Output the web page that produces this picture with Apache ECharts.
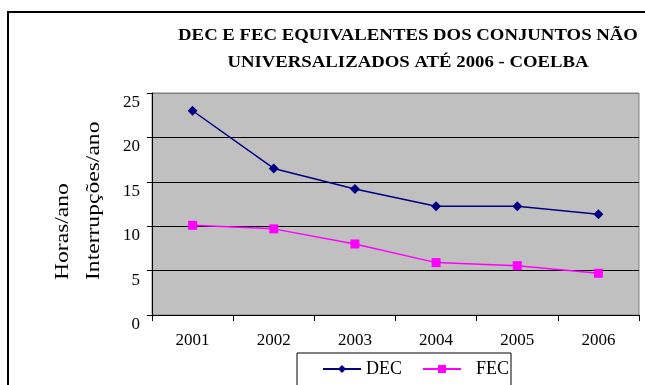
<!DOCTYPE html>
<html>
<head>
<meta charset="utf-8">
<script src="https://cdn.jsdelivr.net/npm/echarts@6/dist/echarts.min.js"></script>
<style>
  html, body { margin: 0; padding: 0; background: #fff; }
  #chart { width: 645px; height: 385px; }
</style>
</head>
<body>
<div id="chart"></div>
<script>
// Annual continuity indicators (DEC in hours/year, FEC in interruptions/year)
const years = ['2001', '2002', '2003', '2004', '2005', '2006'];
const decValues = [23.0, 16.5, 14.2, 12.25, 12.25, 11.35];
const fecValues = [10.1, 9.7, 8.0, 5.9, 5.55, 4.7];
const yTicks = { min: 0, max: 25, interval: 5 };
const titleLines = ['DEC E FEC EQUIVALENTES DOS CONJUNTOS NÃO', 'UNIVERSALIZADOS ATÉ 2006 - COELBA'];
const axisNames = ['Horas/ano', 'Interrupções/ano'];

const serif = '"Liberation Serif", "Times New Roman", serif';

const chart = echarts.init(document.getElementById('chart'));
chart.setOption({
  animation: false,
  backgroundColor: '#ffffff',
  graphic: [
    {
      type: 'rect',
      shape: { x: 8, y: 12, width: 700, height: 420 },
      style: { fill: 'none', stroke: '#000', lineWidth: 2 },
      z: -1
    },
    // chart title, two lines, slightly widened lettering
    {
      type: 'text', x: 408, y: 36, scaleX: 1.13,
      style: { text: titleLines[0], font: 'bold 16.6px ' + serif, fill: '#000', align: 'center', verticalAlign: 'middle' }
    },
    {
      type: 'text', x: 408, y: 62.5, scaleX: 1.13,
      style: { text: titleLines[1], font: 'bold 16.6px ' + serif, fill: '#000', align: 'center', verticalAlign: 'middle' }
    },
    // vertical axis captions, reading bottom to top
    {
      type: 'text', x: 63.5, y: 280, rotation: Math.PI / 2, scaleX: 1.31,
      style: { text: axisNames[0], font: '18px ' + serif, fill: '#000', align: 'left', verticalAlign: 'middle' }
    },
    {
      type: 'text', x: 94, y: 280, rotation: Math.PI / 2, scaleX: 1.31,
      style: { text: axisNames[1], font: '18px ' + serif, fill: '#000', align: 'left', verticalAlign: 'middle' }
    }
  ],
  legend: {
    left: 297,
    top: 353,
    padding: [7, 2, 30, 25],
    itemGap: 20,
    itemWidth: 38,
    itemHeight: 10,
    borderColor: '#000',
    borderWidth: 1,
    formatter: function (name) {
      return name === 'FEC' ? '{gap|' + name + '}' : name;
    },
    textStyle: {
      fontFamily: serif, fontSize: 18, color: '#000',
      rich: { gap: { fontFamily: serif, fontSize: 18, color: '#000', padding: [0, 0, 0, 10] } }
    },
    data: ['DEC', 'FEC']
  },
  grid: {
    left: 152,
    top: 93,
    width: 487,
    height: 222,
    show: true,
    backgroundColor: '#c0c0c0',
    borderColor: '#808080',
    borderWidth: 1
  },
  xAxis: {
    type: 'category',
    data: years,
    boundaryGap: true,
    axisLine: { lineStyle: { color: '#000', width: 1 } },
    axisTick: { show: true, length: 6, alignWithLabel: false, lineStyle: { color: '#000' } },
    axisLabel: { fontFamily: serif, fontSize: 17, color: '#000', margin: 17 },
    splitLine: { show: false }
  },
  yAxis: {
    type: 'value',
    min: yTicks.min,
    max: yTicks.max,
    interval: yTicks.interval,
    axisLine: { show: true, lineStyle: { color: '#000', width: 1 } },
    axisTick: { show: true, length: 5, lineStyle: { color: '#000' } },
    axisLabel: {
      fontFamily: serif,
      fontSize: 17,
      color: '#000',
      margin: 12,
      verticalAlign: 'top',
      padding: [1, 0, 0, 0]
    },
    splitLine: {
      show: true,
      lineStyle: { color: ['#000', '#000', '#000', '#000', '#000', '#808080'], width: 1 }
    }
  },
  series: [
    {
      name: 'DEC',
      type: 'line',
      data: decValues,
      symbol: 'diamond',
      symbolSize: 10,
      color: '#000080',
      lineStyle: { color: '#000080', width: 1.5 },
      itemStyle: { color: '#000080' }
    },
    {
      name: 'FEC',
      type: 'line',
      data: fecValues,
      symbol: 'rect',
      symbolSize: 9,
      color: '#ff00ff',
      lineStyle: { color: '#ff00ff', width: 1.5 },
      itemStyle: { color: '#ff00ff' }
    }
  ]
});
</script>
</body>
</html>
